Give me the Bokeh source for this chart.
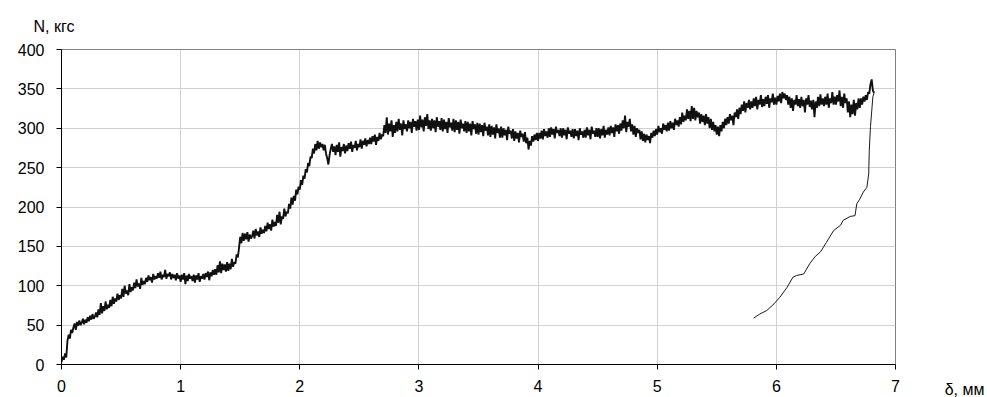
from bokeh.plotting import figure
from bokeh.models import Range1d, Title, FixedTicker
from bokeh.embed import file_html
from bokeh.resources import INLINE

# ---- data ----
x_ticks = [0, 1, 2, 3, 4, 5, 6, 7]
y_ticks = [0, 50, 100, 150, 200, 250, 300, 350, 400]
y_title = "N, кгс"
x_title = "δ, мм"

# loading branch: force N (kgf) sampled every 0.01 mm from 0 to 6.82 mm
load_step = 0.01
load_N = [
    3, 10, 6, 14, 9, 30, 38, 33, 44, 40,
    47, 52, 44, 54, 49, 56, 50, 53, 58, 51,
    57, 53, 60, 55, 62, 57, 64, 58, 61, 66,
    60, 70, 63, 78, 65, 74, 68, 80, 70, 76,
    72, 82, 74, 86, 77, 84, 80, 90, 82, 88,
    84, 96, 86, 100, 90, 94, 88, 102, 92, 98,
    94, 104, 97, 108, 99, 103, 96, 110, 101, 106,
    102, 110, 105, 113, 107, 111, 104, 115, 108, 112,
    109, 116, 110, 118, 108, 114, 111, 120, 109, 115,
    112, 117, 108, 115, 110, 114, 107, 116, 109, 113,
    105, 114, 108, 116, 102, 113, 106, 115, 109, 112,
    106, 114, 104, 113, 108, 116, 105, 112, 109, 115,
    108, 116, 111, 118, 107, 117, 112, 120, 114, 121,
    114, 126, 117, 131, 116, 128, 120, 127, 118, 130,
    119, 128, 121, 134, 124, 130, 128, 140, 136, 148,
    162, 154, 167, 157, 166, 159, 168, 156, 165, 160,
    163, 170, 160, 172, 164, 169, 162, 174, 166, 171,
    167, 176, 169, 180, 172, 178, 170, 184, 175, 181,
    176, 190, 180, 194, 178, 188, 185, 198, 188, 194,
    192, 204, 198, 212, 203, 214, 208, 222, 216, 226,
    222, 234, 228, 240, 236, 248, 244, 256, 252, 264,
    262, 274, 268, 280, 272, 284, 274, 282, 276, 280,
    272, 279, 268, 262, 254, 266, 274, 280, 270, 277,
    266, 279, 270, 282, 264, 276, 271, 280, 268, 278,
    271, 281, 274, 283, 270, 279, 275, 284, 272, 280,
    276, 286, 274, 284, 279, 287, 277, 285, 280, 288,
    280, 290, 283, 292, 279, 289, 284, 294, 286, 292,
    290, 304, 294, 314, 292, 306, 296, 310, 289, 304,
    294, 308, 296, 312, 298, 306, 291, 310, 299, 305,
    296, 310, 300, 308, 294, 312, 302, 309, 297, 311,
    298, 316, 301, 311, 296, 314, 303, 318, 299, 310,
    297, 312, 300, 310, 295, 314, 302, 309, 298, 313,
    296, 311, 299, 308, 294, 313, 301, 307, 297, 312,
    295, 310, 298, 308, 293, 311, 300, 306, 296, 309,
    294, 308, 296, 306, 291, 309, 299, 305, 293, 307,
    292, 306, 295, 304, 290, 307, 297, 302, 291, 305,
    289, 303, 292, 301, 287, 305, 294, 300, 288, 302,
    288, 300, 291, 298, 285, 302, 293, 297, 287, 299,
    284, 296, 287, 294, 282, 297, 289, 293, 283, 295,
    281, 288, 273, 284, 278, 290, 283, 292, 285, 294,
    284, 294, 287, 297, 286, 299, 290, 296, 288, 300,
    289, 301, 292, 299, 287, 302, 294, 298, 290, 300,
    288, 300, 291, 298, 286, 301, 293, 297, 289, 299,
    287, 299, 290, 297, 285, 300, 292, 296, 288, 298,
    288, 301, 291, 298, 286, 302, 293, 297, 289, 300,
    289, 300, 287, 299, 291, 303, 288, 298, 292, 301,
    291, 303, 294, 301, 289, 305, 296, 304, 293, 306,
    297, 310, 300, 316, 295, 308, 302, 312, 296, 305,
    292, 303, 289, 300, 294, 298, 286, 296, 284, 293,
    282, 292, 285, 290, 281, 294, 288, 297, 290, 299,
    292, 303, 295, 300, 293, 306, 298, 304, 296, 307,
    297, 309, 300, 307, 298, 312, 304, 310, 302, 314,
    305, 320, 308, 316, 310, 324, 312, 322, 309, 328,
    312, 326, 310, 322, 314, 320, 306, 318, 308, 316,
    304, 318, 306, 314, 300, 312, 298, 308, 296, 304,
    292, 302, 290, 304, 296, 308, 300, 312, 304, 314,
    306, 318, 310, 316, 304, 320, 314, 324, 312, 326,
    318, 330, 322, 334, 320, 332, 326, 336, 324, 334,
    326, 338, 328, 340, 324, 336, 330, 342, 327, 337,
    328, 340, 331, 342, 326, 338, 333, 344, 330, 339,
    330, 341, 334, 344, 332, 346, 338, 344, 336, 342,
    330, 340, 326, 338, 322, 336, 330, 342, 328, 337,
    326, 340, 328, 336, 320, 338, 330, 342, 327, 335,
    324, 336, 314, 334, 326, 340, 328, 343, 330, 338,
    328, 340, 330, 344, 326, 338, 332, 346, 330, 340,
    330, 342, 334, 348, 328, 340, 326, 344, 332, 338,
    320, 334, 314, 330, 318, 336, 316, 332, 324, 338,
    326, 338, 330, 340, 334, 342, 336, 346, 344, 356,
    362, 348, 345,
]
load_x = [round(i * load_step, 2) for i in range(len(load_N))]

# unloading branch
unload_x = [6.82, 6.81, 6.79, 6.78, 6.775, 6.76, 6.73, 6.70, 6.675, 6.66, 6.62,
            6.56, 6.54, 6.48, 6.42, 6.37, 6.325, 6.28, 6.23, 6.17, 6.14, 6.09,
            6.03, 5.98, 5.92, 5.86, 5.81]
unload_N = [345, 340, 302, 272, 242, 225, 219, 210, 204, 189, 188,
            183, 177, 170, 155, 143, 137, 128, 115, 113, 111, 98,
            85.5, 77, 68.6, 64, 59]

FONT = "Liberation Sans"
FS = "16px"

p = figure(width=987, height=397, output_backend="svg", toolbar_location=None,
           x_range=Range1d(0, 7), y_range=Range1d(0, 400),
           min_border_left=61, min_border_right=92,
           min_border_top=49, min_border_bottom=33)

p.background_fill_color = "white"
p.border_fill_color = "white"
p.outline_line_color = "#808080"
p.outline_line_width = 1

p.xaxis.ticker = FixedTicker(ticks=x_ticks)
p.yaxis.ticker = FixedTicker(ticks=y_ticks)
p.xgrid.ticker = FixedTicker(ticks=x_ticks)
p.ygrid.ticker = FixedTicker(ticks=y_ticks)
p.grid.grid_line_color = "#d0d0d0"
p.grid.grid_line_width = 1

for ax in (p.xaxis, p.yaxis):
    ax.axis_line_color = "black"
    ax.axis_line_width = 1
    ax.major_tick_line_color = "black"
    ax.major_tick_out = 5
    ax.major_tick_in = 0
    ax.minor_tick_line_color = None
    ax.major_label_text_font = FONT
    ax.major_label_text_font_size = FS
    ax.major_label_text_color = "black"
p.yaxis.major_label_standoff = 12
p.xaxis.major_label_standoff = 10

p.line(load_x, load_N, line_color="#111111", line_width=1.9)
p.line(unload_x, unload_N, line_color="#1a1a1a", line_width=1)

# y-axis caption, top left
p.title.text = y_title
p.title.align = "left"
p.title.vertical_align = "middle"
p.title.offset = -28
p.title.standoff = 28
p.title.text_font = FONT
p.title.text_font_size = FS
p.title.text_font_style = "normal"
p.title.text_color = "black"

# x-axis caption, bottom right
p.add_layout(Title(text=x_title, align="right", vertical_align="top",
                   offset=-89, standoff=-28, text_font=FONT,
                   text_font_size=FS, text_font_style="normal",
                   text_color="black"), "below")

open("out.html", "w").write(file_html(p, INLINE))
